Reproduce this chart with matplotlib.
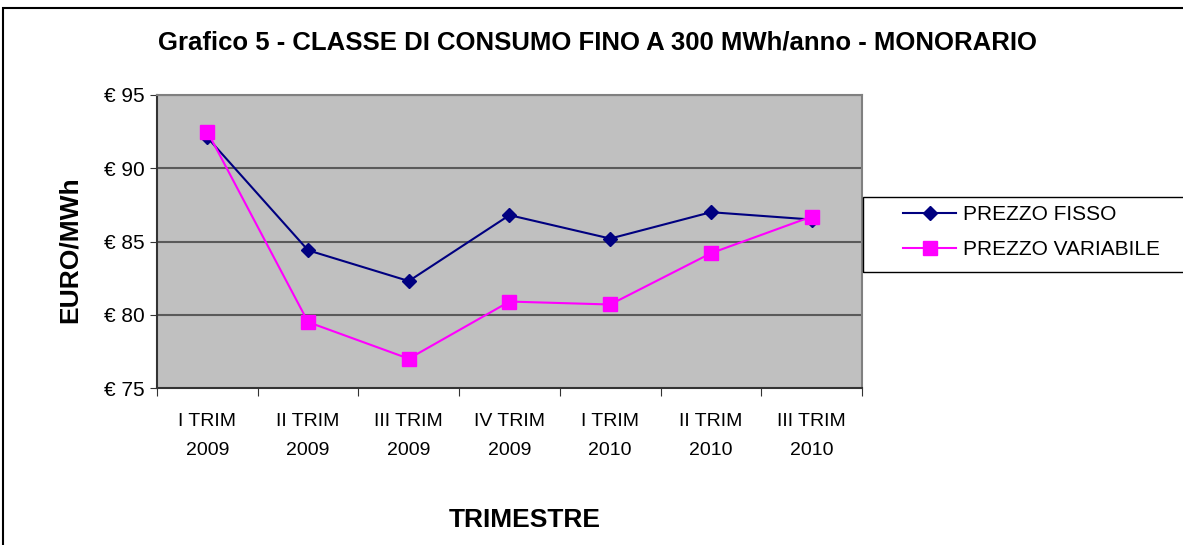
import matplotlib.pyplot as plt
from matplotlib.patches import Rectangle

plt.rcParams['font.family'] = ['Liberation Sans', 'DejaVu Sans']

trimestri = ["I TRIM\n2009", "II TRIM\n2009", "III TRIM\n2009", "IV TRIM\n2009",
             "I TRIM\n2010", "II TRIM\n2010", "III TRIM\n2010"]
prezzo_fisso = [92.1, 84.4, 82.3, 86.8, 85.2, 87.0, 86.5]
prezzo_variabile = [92.5, 79.5, 77.0, 80.9, 80.7, 84.2, 86.7]
y_ticks = [75, 80, 85, 90, 95]

W, H = 1183, 545
fig = plt.figure(figsize=(W / 100, H / 100), dpi=100)
ax = fig.add_axes([157 / W, 1 - 388 / H, 705 / W, 293 / H])
ax.set_facecolor("#c0c0c0")

x = list(range(len(trimestri)))
ax.plot(x, prezzo_fisso, color="#000080", marker="D", markersize=7, lw=1.5,
        label="PREZZO FISSO", zorder=3)
ax.plot(x, prezzo_variabile, color="#ff00ff", marker="s", markersize=10, lw=1.5,
        label="PREZZO VARIABILE", zorder=4)

ax.set_xlim(-0.5, len(trimestri) - 0.5)
ax.set_ylim(75, 95)
ax.set_yticks(y_ticks)
ax.set_yticklabels([f"€ {v}" for v in y_ticks], fontsize=15)
for v in y_ticks[1:]:
    ax.axhline(v, color="#5a5a5a", lw=1.5, zorder=1)

ax.set_xticks([i + 0.5 for i in range(-1, len(trimestri))])
ax.set_xticklabels([])
ax.set_xticks(x, minor=True)
ax.set_xticklabels(trimestri, minor=True, fontsize=14, linespacing=1.9)
ax.tick_params(axis="x", which="minor", length=0, pad=18)
ax.tick_params(axis="x", which="major", length=6, direction="out", color="#333333")
ax.tick_params(axis="y", length=5, direction="out", color="#333333", pad=4)

for s in ["left", "bottom"]:
    ax.spines[s].set_color("#333333")
    ax.spines[s].set_linewidth(1.5)
for s in ["top", "right"]:
    ax.spines[s].set_color("#808080")
    ax.spines[s].set_linewidth(1.5)

fig.text(597 / W, 1 - 42 / H, "Grafico 5 - CLASSE DI CONSUMO FINO A 300 MWh/anno - MONORARIO",
         ha="center", va="center", fontsize=18.5, fontweight="bold")
fig.text(70 / W, 1 - 250 / H, "EURO/MWh", rotation=90, ha="center", va="center",
         fontsize=19, fontweight="bold")
fig.text(525 / W, 1 - 520 / H, "TRIMESTRE", ha="center", va="center",
         fontsize=19, fontweight="bold")

# legend box drawn separately so the entries can sit further in
fig.patches.append(Rectangle((863 / W, 1 - 272 / H), 0.4, 75 / H, transform=fig.transFigure,
                             fill=False, edgecolor="black", lw=1.0))
fig.legend(loc="center left", bbox_to_anchor=(903 / W, 1 - 232 / H),
           fontsize=15, frameon=False, handlelength=2.55, labelspacing=0.75,
           borderpad=0, borderaxespad=0, handletextpad=0.35)

fig.patches.append(Rectangle((3 / W, -0.1), 1.2, 1.1 - 8 / H, transform=fig.transFigure,
                             fill=False, edgecolor="black", lw=1.5))

fig.savefig("out.png", dpi=100)
